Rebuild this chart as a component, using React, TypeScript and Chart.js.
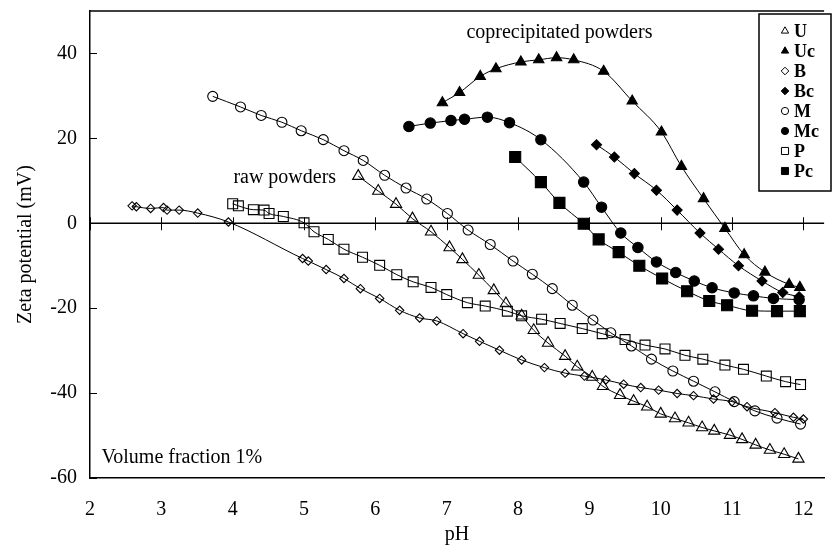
import { useEffect, useRef } from "react";
import { Chart, registerables } from "chart.js";
import { drawPoint } from "chart.js/helpers";

Chart.register(...registerables);

const FONT = "'Liberation Serif', 'Times New Roman', serif";

const xTickValues = [2, 3, 4, 5, 6, 7, 8, 9, 10, 11, 12];
const yTickValues = [-60, -40, -20, 0, 20, 40];

const uPH = [5.76, 6.04, 6.29, 6.52, 6.78, 7.04, 7.22, 7.45, 7.66, 7.83, 8.05, 8.22, 8.42, 8.66, 8.83, 9.04, 9.19, 9.43, 9.62, 9.81, 10.0, 10.2, 10.39, 10.58, 10.75, 10.97, 11.14, 11.33, 11.53, 11.73, 11.93];
const uZeta = [11.1, 7.6, 4.5, 1.1, -2.0, -5.7, -8.5, -12.2, -15.8, -18.9, -21.8, -25.2, -28.2, -31.3, -33.8, -36.2, -38.4, -40.5, -41.9, -43.2, -44.9, -46.0, -47.0, -48.1, -48.9, -49.9, -50.9, -52.2, -53.4, -54.4, -55.5];

const ucPH = [6.94, 7.18, 7.47, 7.69, 8.04, 8.29, 8.54, 8.78, 9.2, 9.6, 10.01, 10.29, 10.6, 10.9, 11.17, 11.46, 11.8, 11.95];
const ucZeta = [28.4, 30.8, 34.6, 36.4, 38.0, 38.5, 39.0, 38.5, 35.8, 28.8, 21.5, 13.4, 5.8, -1.2, -7.4, -11.5, -14.4, -15.1];

const bPH = [2.59, 2.65, 2.85, 3.03, 3.08, 3.25, 3.51, 3.94, 4.98, 5.06, 5.31, 5.56, 5.79, 6.06, 6.34, 6.62, 6.86, 7.23, 7.46, 7.74, 8.05, 8.37, 8.66, 8.93, 9.23, 9.48, 9.72, 9.97, 10.23, 10.46, 10.74, 11.0, 11.21, 11.6, 11.86, 12.0];
const bZeta = [4.1, 3.9, 3.5, 3.7, 3.1, 3.1, 2.4, 0.3, -8.3, -8.9, -10.9, -13.0, -15.4, -17.7, -20.5, -22.3, -23.0, -26.0, -27.8, -29.9, -32.2, -34.0, -35.3, -36.0, -36.9, -37.9, -38.7, -39.3, -40.1, -40.6, -41.4, -42.0, -43.2, -44.6, -45.7, -46.1];

const bcPH = [9.1, 9.35, 9.63, 9.94, 10.23, 10.55, 10.81, 11.09, 11.42, 11.71, 11.94];
const bcZeta = [18.5, 15.6, 11.7, 7.8, 3.1, -2.3, -6.1, -10.0, -13.6, -16.3, -17.3];

const mPH = [3.72, 4.11, 4.4, 4.69, 4.96, 5.27, 5.56, 5.83, 6.13, 6.43, 6.72, 7.01, 7.3, 7.61, 7.93, 8.2, 8.48, 8.76, 9.05, 9.3, 9.59, 9.87, 10.17, 10.46, 10.76, 11.03, 11.32, 11.63, 11.96];
const mZeta = [29.9, 27.4, 25.4, 23.8, 21.8, 19.7, 17.1, 14.8, 11.3, 8.3, 5.7, 2.3, -1.6, -5.0, -8.9, -12.0, -15.4, -19.3, -22.8, -25.8, -28.9, -32.0, -34.8, -37.2, -39.7, -42.0, -44.2, -45.9, -47.3];

const mcPH = [6.47, 6.77, 7.06, 7.25, 7.57, 7.88, 8.32, 8.92, 9.17, 9.44, 9.68, 9.94, 10.21, 10.47, 10.72, 11.03, 11.3, 11.58, 11.94];
const mcZeta = [22.8, 23.6, 24.2, 24.5, 25.0, 23.7, 19.7, 9.7, 3.8, -2.3, -5.7, -9.1, -11.6, -13.6, -15.2, -16.4, -17.1, -17.7, -18.0];

const pPH = [4.0, 4.08, 4.29, 4.44, 4.51, 4.71, 5.0, 5.14, 5.34, 5.56, 5.82, 6.06, 6.3, 6.53, 6.78, 7.0, 7.29, 7.54, 7.85, 8.05, 8.33, 8.59, 8.9, 9.18, 9.5, 9.78, 10.06, 10.34, 10.59, 10.9, 11.16, 11.48, 11.75, 11.96];
const pZeta = [4.6, 4.1, 3.2, 3.1, 2.3, 1.6, 0.1, -2.0, -3.8, -6.1, -8.0, -9.9, -12.1, -13.8, -15.1, -16.8, -18.7, -19.5, -20.7, -21.8, -22.6, -23.6, -24.8, -26.0, -27.4, -28.7, -29.6, -31.1, -32.0, -33.4, -34.4, -36.0, -37.3, -38.0];

const pcPH = [7.96, 8.32, 8.58, 8.92, 9.13, 9.41, 9.7, 10.02, 10.37, 10.68, 10.93, 11.28, 11.63, 11.95];
const pcZeta = [15.6, 9.7, 4.8, -0.1, -3.8, -6.8, -10.0, -13.0, -16.0, -18.3, -19.3, -20.6, -20.7, -20.7];

const seriesNames = ["U", "Uc", "B", "Bc", "M", "Mc", "P", "Pc"];

const annotations = [
  { text: "coprecipitated powders", x: 8.58, y: 44.9, align: "center" },
  { text: "raw powders", x: 4.73, y: 10.8, align: "center" },
  { text: "Volume fraction 1%", x: 2.16, y: -55.3, align: "left" },
];

const OPEN = "rgba(255,255,255,0)";
const BLACK = "#000";

function pts(xs: number[], ys: number[]) {
  return xs.map((x, i) => ({ x, y: ys[i] }));
}

const styles = [
  { style: "triangle", radius: 6.5, fill: OPEN, lr: 4.2 },
  { style: "triangle", radius: 6, fill: BLACK, lr: 4.2 },
  { style: "rectRot", radius: 4.2, fill: OPEN, lr: 3.8 },
  { style: "rectRot", radius: 5, fill: BLACK, lr: 3.8 },
  { style: "circle", radius: 5, fill: OPEN, lr: 3.6 },
  { style: "circle", radius: 5.2, fill: BLACK, lr: 3.6 },
  { style: "rect", radius: 7, fill: OPEN, lr: 5 },
  { style: "rect", radius: 7.8, fill: BLACK, lr: 5 },
];

const decorPlugin = {
  id: "decor",
  beforeDatasetsDraw(chart: any) {
    const { ctx, chartArea, scales } = chart;
    const x = scales.x;
    const y = scales.y;
    const y0 = y.getPixelForValue(0);
    ctx.save();
    ctx.strokeStyle = BLACK;
    ctx.lineWidth = 1.5;
    ctx.beginPath();
    ctx.moveTo(chartArea.left, y0);
    ctx.lineTo(chartArea.right, y0);
    ctx.moveTo(chartArea.left, chartArea.top);
    ctx.lineTo(chartArea.right, chartArea.top);
    ctx.stroke();
    ctx.lineWidth = 1;
    ctx.beginPath();
    xTickValues.forEach((v) => {
      const px = Math.round(x.getPixelForValue(v)) + 0.5;
      ctx.moveTo(px, y0 - 6);
      ctx.lineTo(px, y0 + 7);
    });
    yTickValues.forEach((v) => {
      const py = Math.round(y.getPixelForValue(v)) + 0.5;
      ctx.moveTo(chartArea.left, py);
      ctx.lineTo(chartArea.left + 7, py);
    });
    ctx.stroke();
    ctx.restore();
  },
  afterDraw(chart: any) {
    const { ctx, scales } = chart;
    ctx.save();
    ctx.fillStyle = BLACK;
    ctx.font = `20px ${FONT}`;
    ctx.textBaseline = "middle";
    annotations.forEach((a) => {
      ctx.textAlign = a.align;
      ctx.fillText(a.text, scales.x.getPixelForValue(a.x), scales.y.getPixelForValue(a.y));
    });
    // legend
    const bx = 759, by = 14, bw = 72, bh = 177;
    ctx.fillStyle = "#fff";
    ctx.fillRect(bx, by, bw, bh);
    ctx.strokeStyle = BLACK;
    ctx.lineWidth = 1.5;
    ctx.strokeRect(bx, by, bw, bh);
    ctx.font = `bold 18px ${FONT}`;
    ctx.textAlign = "left";
    ctx.lineWidth = 1;
    seriesNames.forEach((name, i) => {
      const iy = by + 17 + i * 20;
      const st = styles[i];
      ctx.fillStyle = st.fill;
      ctx.strokeStyle = BLACK;
      drawPoint(ctx, { pointStyle: st.style, radius: st.lr, rotation: 0, borderWidth: 1 } as any, 785, iy);
      ctx.fillStyle = BLACK;
      ctx.fillText(name, 794, iy + 1);
    });
    ctx.restore();
  },
};

export default function App() {
  const ref = useRef<HTMLCanvasElement | null>(null);
  useEffect(() => {
    if (!ref.current) return;
    const all = [
      pts(uPH, uZeta), pts(ucPH, ucZeta), pts(bPH, bZeta), pts(bcPH, bcZeta),
      pts(mPH, mZeta), pts(mcPH, mcZeta), pts(pPH, pZeta), pts(pcPH, pcZeta),
    ];
    const datasets = all.map((data, i) => ({
      label: seriesNames[i],
      data,
      showLine: true,
      borderColor: BLACK,
      borderWidth: 1,
      cubicInterpolationMode: "monotone",
      pointStyle: styles[i].style,
      pointRadius: styles[i].radius,
      pointBackgroundColor: styles[i].fill,
      pointBorderColor: BLACK,
      pointBorderWidth: 1.1,
      fill: false,
    }));
    const tickFont = { family: FONT, size: 20 };
    const chart = new Chart(ref.current, {
      type: "scatter",
      data: { datasets } as any,
      options: {
        responsive: false,
        animation: false,
        layout: { padding: { top: 11, right: 0, left: 0, bottom: 0 } },
        plugins: { legend: { display: false }, tooltip: { enabled: false } },
        scales: {
          x: {
            type: "linear",
            min: 2,
            max: 12.29,
            afterBuildTicks: (s: any) => { s.ticks = xTickValues.map((v) => ({ value: v })); },
            afterFit: (s: any) => { s.height = 72; s.paddingLeft = 0; s.paddingRight = 0; },
            grid: { display: true, drawOnChartArea: false, drawTicks: false },
            border: { display: true, color: BLACK, width: 1.5 },
            ticks: { padding: 20, color: BLACK, font: tickFont, maxRotation: 0 },
            title: { display: true, text: "pH", color: BLACK, font: { family: FONT, size: 20 }, padding: { top: 0, bottom: 3 } },
          },
          y: {
            type: "linear",
            min: -60,
            max: 50,
            afterBuildTicks: (s: any) => { s.ticks = yTickValues.map((v) => ({ value: v })); },
            afterFit: (s: any) => { s.width = 90; s.paddingTop = 0; s.paddingBottom = 0; },
            grid: { display: true, drawOnChartArea: false, drawTicks: false },
            border: { display: true, color: BLACK, width: 1.5 },
            ticks: { padding: 13, color: BLACK, font: tickFont },
            title: { display: true, text: "Zeta potential (mV)", color: BLACK, font: { family: FONT, size: 20 }, padding: { top: 14, bottom: 0 } },
          },
        },
      } as any,
      plugins: [decorPlugin],
    });
    return () => chart.destroy();
  }, []);
  return (
    <div style={{ position: "fixed", left: 0, top: 0, width: 833, height: 550, background: "#fff" }}>
      <canvas ref={ref} width={833} height={550} style={{ display: "block" }} />
    </div>
  );
}
